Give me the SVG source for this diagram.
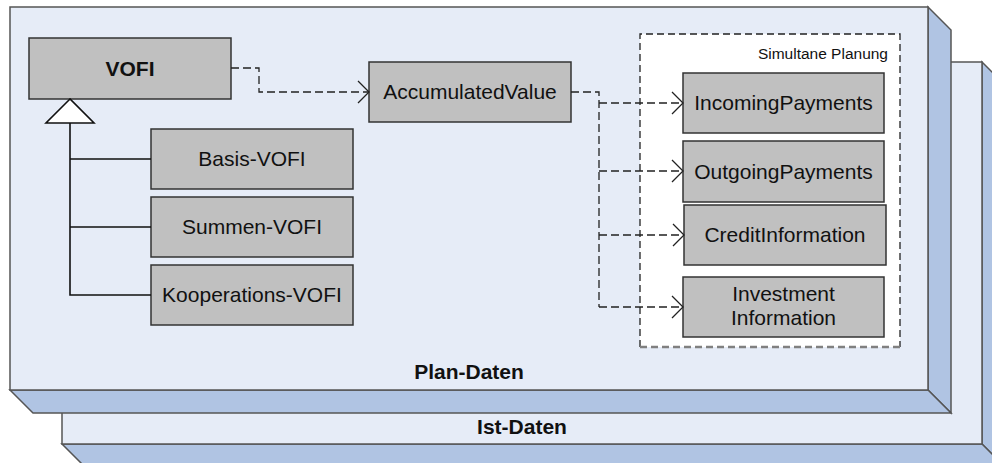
<svg xmlns="http://www.w3.org/2000/svg" width="992" height="463" viewBox="0 0 992 463">
<style>
.face{fill:#E6ECF7;stroke:#555;stroke-width:1.5}
.side{fill:#B0C4E3;stroke:#555;stroke-width:1.5;stroke-linejoin:miter}
.box{fill:#C0C0C0;stroke:#333;stroke-width:1.5}
.lbl{font-family:"Liberation Sans",Arial,sans-serif;font-size:21px;fill:#111;text-anchor:middle}
.bold{font-weight:bold}
.small{font-family:"Liberation Sans",Arial,sans-serif;font-size:15.5px;fill:#111;text-anchor:end}
.dep{fill:none;stroke:#222;stroke-width:1.3;stroke-dasharray:8 4}
.gen{fill:none;stroke:#111;stroke-width:1.6}
</style>
<defs>
<marker id="open" markerUnits="userSpaceOnUse" markerWidth="26" markerHeight="26" viewBox="-13 -13 26 26" refX="0" refY="0" orient="auto">
<path d="M-11,-11 L0,0 L-11,11" fill="none" stroke="#222" stroke-width="1.3" stroke-dasharray="none"/>
</marker>
</defs>

<g id="ist-daten">
<polygon class="side" points="982,62 1005,85 1005,467 982,444"/>
<polygon class="side" points="62,444 982,444 1005,467 85,467"/>
<rect class="face" x="62" y="62" width="920" height="382"/>
<text class="lbl bold" x="522" y="434">Ist-Daten</text>
</g>

<g id="plan-daten">
<polygon class="side" points="928,7 951,30 951,413 928,390"/>
<polygon class="side" points="10,390 928,390 951,413 33,413"/>
<rect class="face" x="10" y="7" width="918" height="383"/>
<text class="lbl bold" x="469" y="379">Plan-Daten</text>
</g>

<g id="simultane-planung">
<rect x="640" y="34" width="260" height="313" fill="#fff" stroke="none"/>
<path d="M640,347 V34 H900 V347" fill="none" stroke="#222" stroke-width="1.3" stroke-dasharray="7 4"/>
<path d="M640,347 H900" fill="none" stroke="#808080" stroke-width="2.5" stroke-dasharray="7 4"/>
<text class="small" x="888" y="59">Simultane Planung</text>
</g>

<g id="vofi">
<rect class="box" x="29" y="38" width="202" height="61"/>
<text class="lbl bold" x="130" y="76">VOFI</text>
</g>
<g id="basis-vofi">
<rect class="box" x="151" y="129" width="202" height="60"/>
<text class="lbl" x="252" y="166">Basis-VOFI</text>
</g>
<g id="summen-vofi">
<rect class="box" x="151" y="197" width="202" height="60"/>
<text class="lbl" x="252" y="234">Summen-VOFI</text>
</g>
<g id="kooperations-vofi">
<rect class="box" x="151" y="265" width="202" height="60"/>
<text class="lbl" x="252" y="302">Kooperations-VOFI</text>
</g>
<g id="accumulated-value">
<rect class="box" x="369" y="62" width="202" height="60"/>
<text class="lbl" x="470" y="99">AccumulatedValue</text>
</g>
<g id="incoming-payments">
<rect class="box" x="683" y="73" width="201" height="60"/>
<text class="lbl" x="783.5" y="110">IncomingPayments</text>
</g>
<g id="outgoing-payments">
<rect class="box" x="683" y="141" width="201" height="61"/>
<text class="lbl" x="783.5" y="179">OutgoingPayments</text>
</g>
<g id="credit-information">
<rect class="box" x="684" y="205" width="202" height="60"/>
<text class="lbl" x="785" y="242">CreditInformation</text>
</g>
<g id="investment-information">
<rect class="box" x="683" y="277" width="201" height="60"/>
<text class="lbl" x="783.5" y="301">Investment</text>
<text class="lbl" x="783.5" y="325">Information</text>
</g>

<g id="connectors">
<polygon points="70,99 46,123 94,123" fill="#fff" stroke="#111" stroke-width="1.6"/>
<path class="gen" d="M70,123 V295 H151 M70,159 H151 M70,227 H151"/>
<path class="dep" d="M231,68 H259 V92 H369" marker-end="url(#open)"/>
<path class="dep" d="M571,92 H599 V307"/>
<path class="dep" d="M599,103 H683" marker-end="url(#open)"/>
<path class="dep" d="M599,171 H683" marker-end="url(#open)"/>
<path class="dep" d="M599,235 H684" marker-end="url(#open)"/>
<path class="dep" d="M599,307 H683" marker-end="url(#open)"/>
</g>
</svg>
